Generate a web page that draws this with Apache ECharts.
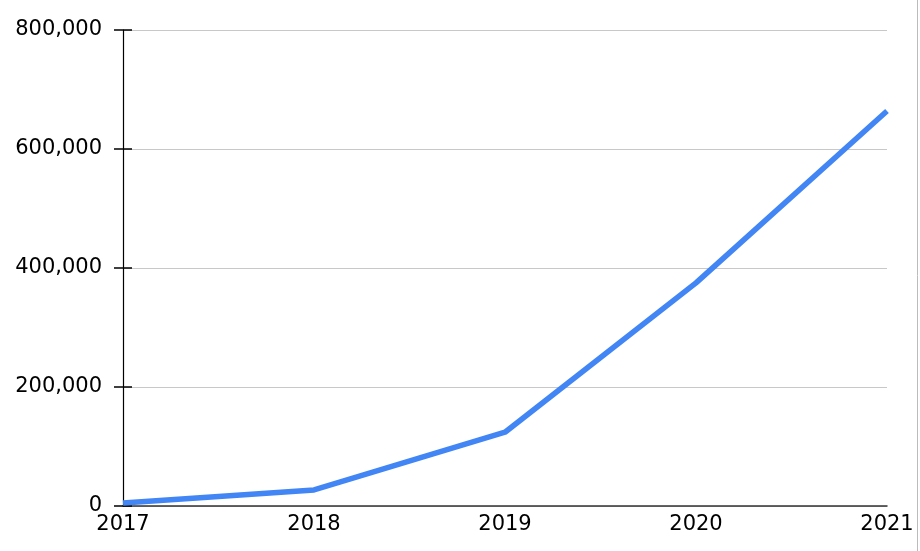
<!DOCTYPE html>
<html>
<head>
<meta charset="utf-8">
<script src="https://cdn.jsdelivr.net/npm/echarts@6/dist/echarts.min.js"></script>
<style>html,body{margin:0;padding:0;background:#fff;}#c{width:920px;height:551px;}</style>
</head>
<body>
<div id="c"></div>
<script>
const years = ['2017', '2018', '2019', '2020', '2021'];
const values = [5000, 27000, 124000, 375000, 664000];
const yTicks = [0, 200000, 400000, 600000, 800000];

const chart = echarts.init(document.getElementById('c'), null, {renderer: 'canvas'});
const fmt = v => v.toLocaleString('en-US');
chart.setOption({
  animation: false,
  grid: {left: 123, right: 33, top: 30, bottom: 45, containLabel: false},
  xAxis: {
    type: 'category',
    data: years,
    boundaryGap: false,
    axisLine: {lineStyle: {color: '#333', width: 1.5}},
    axisTick: {show: false},
    axisLabel: {color: '#000', fontFamily: 'DejaVu Sans', fontSize: 21, margin: 8}
  },
  yAxis: [{
    type: 'value',
    min: yTicks[0], max: yTicks[yTicks.length - 1], interval: 200000,
    axisLine: {show: true, lineStyle: {color: '#000', width: 1.2}},
    axisTick: {show: true, length: 9, lineStyle: {color: '#000', width: 1.5}},
    splitLine: {lineStyle: {color: '#c8c8c8', width: 1}},
    axisLabel: {color: '#000', fontFamily: 'DejaVu Sans', fontSize: 21, margin: 21, formatter: fmt}
  }, {
    type: 'value', position: 'left', offset: 0,
    min: yTicks[0], max: yTicks[yTicks.length - 1], interval: 200000,
    axisLine: {show: false},
    axisTick: {show: true, inside: true, length: 9, lineStyle: {color: '#000', width: 1.5}},
    splitLine: {show: false},
    axisLabel: {show: false}
  }],
  series: [{
    type: 'line',
    data: values,
    showSymbol: false,
    lineStyle: {color: '#4285f4', width: 5.5},
    itemStyle: {color: '#4285f4'}
  }],
  graphic: [{
    type: 'line', shape: {x1: 917.5, y1: 0, x2: 917.5, y2: 551},
    style: {stroke: '#bbbbbb', lineWidth: 1}
  }]
});
</script>
</body>
</html>
